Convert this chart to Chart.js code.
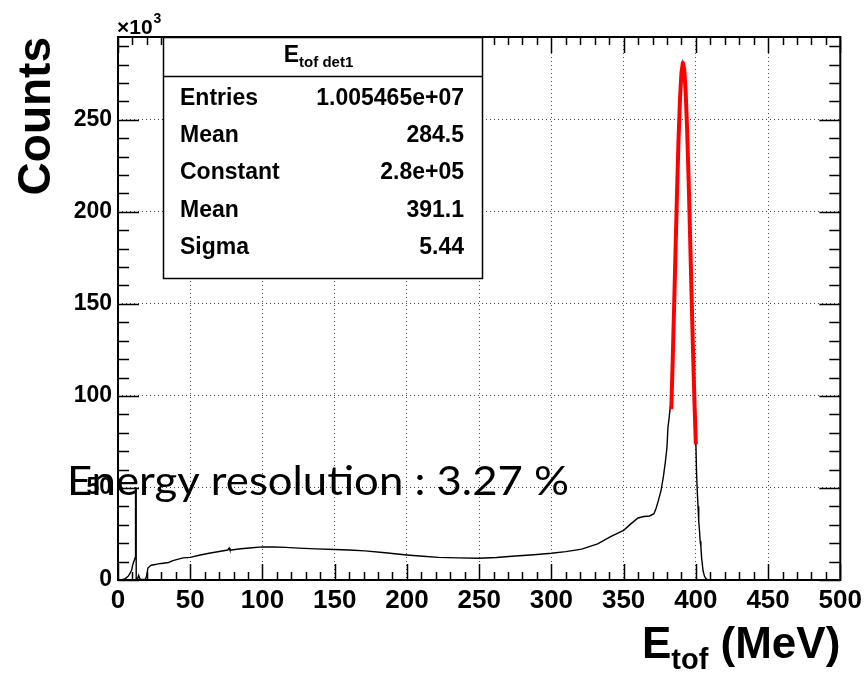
<!DOCTYPE html>
<html>
<head>
<meta charset="utf-8">
<title>E_tof det1</title>
<script src="https://cdn.jsdelivr.net/npm/chart.js@4.4.1/dist/chart.umd.min.js"></script>
<style>
  html, body { margin: 0; padding: 0; background: #fff; }
  #wrap { width: 867px; height: 673px; }
</style>
</head>
<body>
<div id="wrap"><canvas id="chart" width="867" height="673"></canvas></div>
<script>
// E_tof det1 histogram, counts in units of 10^3
const histEnergy = [
  0, 2.5, 5, 7, 8.5, 9.5, 10.1, 11, 11.8, 12.1, 12.2, 12.5, 12.6, 13.5, 14.3, 15, 15.8, 16.5, 17.5, 18.9,
  19.8, 20.7, 22, 23, 25, 27, 30, 35, 38, 45, 50, 57, 63, 70, 76, 77, 77.5, 78.5, 85, 91,
  100, 108, 116, 125, 137, 150, 160, 171, 185, 200, 211, 222, 235, 250, 262, 275, 288, 300, 310, 321,
  332, 341, 350, 355, 360, 364, 368, 371, 372.5, 374, 376, 377.5, 378.8, 380, 380.7, 381.5, 382.3,
  383, 384, 385, 386, 387, 388, 389, 390, 391, 392, 393, 394, 395, 396, 397, 398, 399,
  400, 400.5, 401, 401.5, 402, 402.5, 403, 403.5, 404, 405, 406, 407, 408, 410, 500
];
const histCounts = [
  0, 0, 0.8, 2, 3.8, 5.5, 8, 10, 12, 12, 50, 50, 0.5, 0.5, 2.5, 1, 0.3, 0.3, 0.3, 0.5,
  2, 6.5, 7.5, 8, 8.3, 8.6, 9, 9.5, 10.5, 12, 12.3, 13.6, 14.5, 15.5, 16.3, 17.4, 16.3, 16.3, 17, 17.4,
  18, 17.9, 17.7, 17.3, 16.9, 16.6, 16.3, 15.8, 14.8, 13.6, 12.9, 12.3, 12.0, 11.8, 12.2, 13, 13.7, 14.5, 15.4, 16.8,
  19.6, 23.5, 27, 30.5, 33.7, 34.5, 34.8, 36, 39, 43, 49, 56, 63.5, 72, 83, 88, 94,
  95, 120, 150, 181, 211, 239, 261, 275, 281, 277, 264, 244, 217, 187, 156, 126, 98,
  75, 58, 48, 40, 32, 27, 21, 18, 12, 5, 2, 0.7, 0.2, 0, 0
];

// gaussian fit curve (red)
const fitEnergy = [383, 384, 385, 386, 387, 388, 389, 390, 391, 392, 393, 394, 395, 396, 397, 398, 399, 400];
const fitCounts = [92.8, 119.9, 149.8, 181, 211.5, 238.9, 260.8, 275.3, 281, 277.2, 264.4, 243.8, 217.3, 187.3, 156, 125.8, 97.9, 73.7];

const statLabels = ['Entries', 'Mean', 'Constant', 'Mean', 'Sigma'];
const statValues = ['1.005465e+07', '284.5', '2.8e+05', '391.1', '5.44'];
const resolutionText = 'Energy resolution : 3.27 %';

const toPoints = (xs, ys) => xs.map((x, i) => ({ x, y: ys[i] }));
const boldFont = size => 'bold ' + size + 'px "Liberation Sans", Arial, sans-serif';

const rootFrame = {
  id: 'rootFrame',
  beforeDatasetsDraw(chart) {
    const { ctx, chartArea: a, scales: { x, y } } = chart;
    ctx.save();
    ctx.strokeStyle = '#000';
    ctx.lineWidth = 1.5;
    ctx.beginPath();
    for (let v = 0; v <= 500; v += 10) {
      const px = Math.round(x.getPixelForValue(v)) + 0.5;
      const len = v % 50 === 0 ? 16 : 8;
      ctx.moveTo(px, a.bottom); ctx.lineTo(px, a.bottom - len);
      ctx.moveTo(px, a.top); ctx.lineTo(px, a.top + len);
    }
    for (let v = 0; v <= 290; v += 10) {
      const py = Math.round(y.getPixelForValue(v)) + 0.5;
      const len = v % 50 === 0 ? 21 : 11;
      ctx.moveTo(a.left, py); ctx.lineTo(a.left + len, py);
      ctx.moveTo(a.right, py); ctx.lineTo(a.right - len, py);
    }
    ctx.stroke();
    ctx.restore();
  },
  afterDatasetsDraw(chart) {
    const { ctx } = chart;
    // stats box
    const bx = 163, by = 37, bw = 319, bh = 241;
    ctx.save();
    ctx.fillStyle = '#fff';
    ctx.fillRect(bx, by, bw, bh);
    ctx.strokeStyle = '#000';
    ctx.lineWidth = 1.5;
    ctx.strokeRect(bx + 0.5, by + 0.5, bw, bh);
    ctx.beginPath();
    ctx.moveTo(bx, 76.5); ctx.lineTo(bx + bw, 76.5);
    ctx.stroke();

    ctx.fillStyle = '#000';
    ctx.textBaseline = 'alphabetic';
    // header E_{tof det1}
    ctx.font = boldFont(23);
    const wE = ctx.measureText('E').width;
    ctx.font = boldFont(15);
    const wSub = ctx.measureText('tof det1').width;
    const hx = bx + bw / 2 - (wE + wSub) / 2 - 4;
    ctx.font = boldFont(23);
    ctx.textAlign = 'left';
    ctx.fillText('E', hx, 62);
    ctx.font = boldFont(15);
    ctx.fillText('tof det1', hx + wE, 67);

    ctx.font = boldFont(23);
    const baselines = [105, 142, 179, 216.5, 253.5];
    statLabels.forEach((lab, i) => {
      ctx.textAlign = 'left';
      ctx.fillText(lab, 180, baselines[i]);
      ctx.textAlign = 'right';
      ctx.fillText(statValues[i], 464, baselines[i]);
    });
    ctx.restore();
  },
  afterDraw(chart) {
    const { ctx, chartArea: a } = chart;
    ctx.save();
    // frame
    ctx.strokeStyle = '#000';
    ctx.lineWidth = 2;
    ctx.strokeRect(a.left, a.top, a.right - a.left, a.bottom - a.top);

    ctx.fillStyle = '#000';
    // x10^3
    ctx.textAlign = 'left';
    ctx.font = boldFont(21);
    ctx.fillText('\u00d710', 117, 34);
    const w10 = ctx.measureText('\u00d710').width;
    ctx.font = boldFont(14);
    ctx.fillText('3', 117 + w10 + 1, 23);

    // y title
    ctx.save();
    ctx.translate(50, a.top);
    ctx.rotate(-Math.PI / 2);
    ctx.textAlign = 'right';
    ctx.font = boldFont(46);
    ctx.fillText('Counts', 0, 0);
    ctx.restore();

    // x title E_tof (MeV), right aligned to axis end
    ctx.textAlign = 'left';
    ctx.font = boldFont(44);
    const wUnit = ctx.measureText(' (MeV)').width;
    const wEbig = ctx.measureText('E').width;
    ctx.font = boldFont(29);
    const wTof = ctx.measureText('tof').width;
    const tx = a.right - wUnit - wTof - wEbig;
    ctx.font = boldFont(44);
    ctx.fillText('E', tx, 658);
    ctx.font = boldFont(29);
    ctx.fillText('tof', tx + wEbig, 669);
    ctx.font = boldFont(44);
    ctx.fillText(' (MeV)', tx + wEbig + wTof, 658);

    // resolution annotation, stretched to the width it has in the original
    ctx.font = '40px Lato, "Open Sans", sans-serif';
    ctx.textAlign = 'left';
    const wRes = ctx.measureText(resolutionText).width;
    ctx.translate(67, 495);
    ctx.scale(502 / wRes, 1);
    ctx.fillText(resolutionText, 0, 0);
    ctx.restore();
  }
};

new Chart(document.getElementById('chart'), {
  type: 'line',
  data: {
    datasets: [
      { label: 'fit', data: toPoints(fitEnergy, fitCounts), borderColor: '#ff0000', borderWidth: 4,
        borderJoinStyle: 'round', pointRadius: 0, tension: 0, order: 0 },
      { label: 'E_tof det1', data: toPoints(histEnergy, histCounts), borderColor: '#000', borderWidth: 1.4,
        pointRadius: 0, tension: 0, order: 1 }
    ]
  },
  options: {
    responsive: false,
    animation: false,
    devicePixelRatio: 1,
    layout: { padding: { top: 37, right: 24, left: 0, bottom: 0 } },
    plugins: { legend: { display: false }, tooltip: { enabled: false } },
    scales: {
      x: {
        type: 'linear', min: 0, max: 500,
        afterFit: s => { s.height = 93; },
        ticks: { stepSize: 50, includeBounds: false, padding: 5, color: '#000', maxRotation: 0, autoSkip: false,
                 font: { family: '"Liberation Sans", Arial, sans-serif', weight: 'bold', size: 26 } },
        grid: { color: '#444', lineWidth: 1, drawTicks: false },
        border: { display: false, dash: [1, 3] }
      },
      y: {
        type: 'linear', min: 0, max: 295,
        afterFit: s => { s.width = 118; },
        ticks: { stepSize: 50, includeBounds: false, padding: 6, color: '#000',
                 font: { family: '"Liberation Sans", Arial, sans-serif', weight: 'bold', size: 23 } },
        grid: { color: '#444', lineWidth: 1, drawTicks: false },
        border: { display: false, dash: [1, 3] }
      }
    }
  },
  plugins: [rootFrame]
});
</script>
</body>
</html>
